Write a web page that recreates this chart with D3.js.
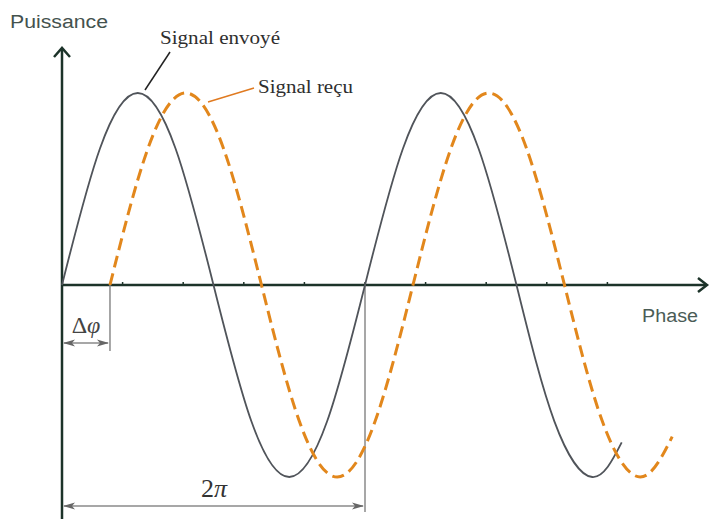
<!DOCTYPE html>
<html><head><meta charset="utf-8">
<script src="https://cdn.jsdelivr.net/npm/d3@7"></script>
<style>html,body{margin:0;padding:0;background:#fff;}svg{display:block;}</style>
</head><body>
<svg id="chart" width="710" height="519"></svg>
<script>
// Phase in degrees, amplitude normalised
const sentPhase = [0,45,90,135,180,225,270,315,360,405,450,495,540,585,630,665];
const sentValue = [0,0.71,1,0.71,0,-0.71,-1,-0.71,0,0.71,1,0.71,0,-0.71,-1,-0.82];
const recvPhase = [57,102,147,192,237,282,327,372,417,462,507,552,597,642,687,725];
const recvValue = [0,0.71,1,0.71,0,-0.71,-1,-0.71,0,0.71,1,0.71,0,-0.71,-1,-0.79];
const tickPhases = [72,144,216,288,360,432,504,576,648];
const periodDeg = 360;
const labels = {y:"Puissance", x:"Phase", sent:"Signal envoyé", recv:"Signal reçu"};

const svg = d3.select("#chart");
const x = d3.scaleLinear().domain([0,360]).range([62,365]);
const y = d3.scaleLinear().domain([-1,1]).range([477,93]);
const axisColor = "#1c3329";

// Axes
svg.append("line").attr("x1",x(0)).attr("x2",x(0)).attr("y1",49).attr("y2",519)
  .attr("stroke",axisColor).attr("stroke-width",2.5);
svg.append("line").attr("x1",x(0)).attr("x2",706).attr("y1",y(0)).attr("y2",y(0))
  .attr("stroke",axisColor).attr("stroke-width",2.5);
svg.append("path").attr("d",`M${x(0)-8},${57} L${x(0)},${48} L${x(0)+8},${57}`)
  .attr("fill","none").attr("stroke",axisColor).attr("stroke-width",2.5);
svg.append("path").attr("d",`M698,${y(0)-7} L707,${y(0)} L698,${y(0)+7}`)
  .attr("fill","none").attr("stroke",axisColor).attr("stroke-width",2.5);
svg.selectAll(".tk").data(tickPhases).enter().append("line")
  .attr("x1",d=>x(d)).attr("x2",d=>x(d)).attr("y1",y(0)-3).attr("y2",y(0))
  .attr("stroke",axisColor).attr("stroke-width",1.5);

// Dimension lines
const dimColor = "#8a8a8a";
const shiftX = x(recvPhase[0]);
const perX = x(periodDeg);
svg.append("line").attr("x1",shiftX).attr("x2",shiftX).attr("y1",y(0)).attr("y2",351)
  .attr("stroke",dimColor).attr("stroke-width",1.5);
svg.append("line").attr("x1",perX).attr("x2",perX).attr("y1",y(0)).attr("y2",512)
  .attr("stroke",dimColor).attr("stroke-width",1.5);
function dimArrow(x1,x2,yy){
  svg.append("line").attr("x1",x1+2).attr("x2",x2-2).attr("y1",yy).attr("y2",yy)
    .attr("stroke",dimColor).attr("stroke-width",1.5);
  svg.append("path").attr("d",`M${x1+1},${yy} L${x1+13},${yy-3.5} L${x1+10},${yy} L${x1+13},${yy+3.5}Z`).attr("fill","#666");
  svg.append("path").attr("d",`M${x2-1},${yy} L${x2-13},${yy-3.5} L${x2-10},${yy} L${x2-13},${yy+3.5}Z`).attr("fill","#666");
}
dimArrow(x(0),shiftX,343);
dimArrow(x(0),perX,506);

// Curves
const line = d3.line().x(d=>x(d[0])).y(d=>y(d[1])).curve(d3.curveNatural);
svg.append("path").datum(sentPhase.map((p,i)=>[p,sentValue[i]]))
  .attr("d",line).attr("fill","none").attr("stroke","#50545a").attr("stroke-width",1.8);
svg.append("path").datum(recvPhase.map((p,i)=>[p,recvValue[i]]))
  .attr("d",line).attr("fill","none").attr("stroke","#e2871c").attr("stroke-width",3)
  .attr("stroke-dasharray","12,6");

// Leader lines
svg.append("line").attr("x1",170).attr("y1",52).attr("x2",145).attr("y2",90)
  .attr("stroke","#222").attr("stroke-width",1.5);
svg.append("line").attr("x1",254).attr("y1",88).attr("x2",208).attr("y2",102)
  .attr("stroke","#e07a20").attr("stroke-width",1.5);

// Text
const sans = "Liberation Sans, Arial, sans-serif";
const serif = "Liberation Serif, Times New Roman, serif";
svg.append("text").attr("x",10).attr("y",28).text(labels.y)
  .attr("font-family",sans).attr("font-size",18).attr("textLength",98).attr("lengthAdjust","spacingAndGlyphs").attr("fill","#44524e");
svg.append("text").attr("x",642).attr("y",322).text(labels.x)
  .attr("font-family",sans).attr("font-size",18).attr("textLength",56).attr("lengthAdjust","spacingAndGlyphs").attr("fill","#4a5c56");
svg.append("text").attr("x",160).attr("y",44).text(labels.sent)
  .attr("font-family",serif).attr("font-size",19).attr("textLength",120).attr("lengthAdjust","spacingAndGlyphs").attr("fill","#2e2e2e");
svg.append("text").attr("x",258).attr("y",93).text(labels.recv)
  .attr("font-family",serif).attr("font-size",19).attr("textLength",95).attr("lengthAdjust","spacingAndGlyphs").attr("fill","#2e2e2e");
const dphi = svg.append("text").attr("x",(x(0)+shiftX)/2).attr("y",333).attr("text-anchor","middle")
  .attr("font-family",serif).attr("font-size",24).attr("fill","#444");
dphi.append("tspan").text("Δ");
dphi.append("tspan").attr("font-style","italic").text("φ");
const twopi = svg.append("text").attr("x",214).attr("y",497).attr("text-anchor","middle")
  .attr("font-family",serif).attr("font-size",26).attr("fill","#333");
twopi.append("tspan").text("2");
twopi.append("tspan").attr("font-style","italic").text("π");
</script>
</body></html>
